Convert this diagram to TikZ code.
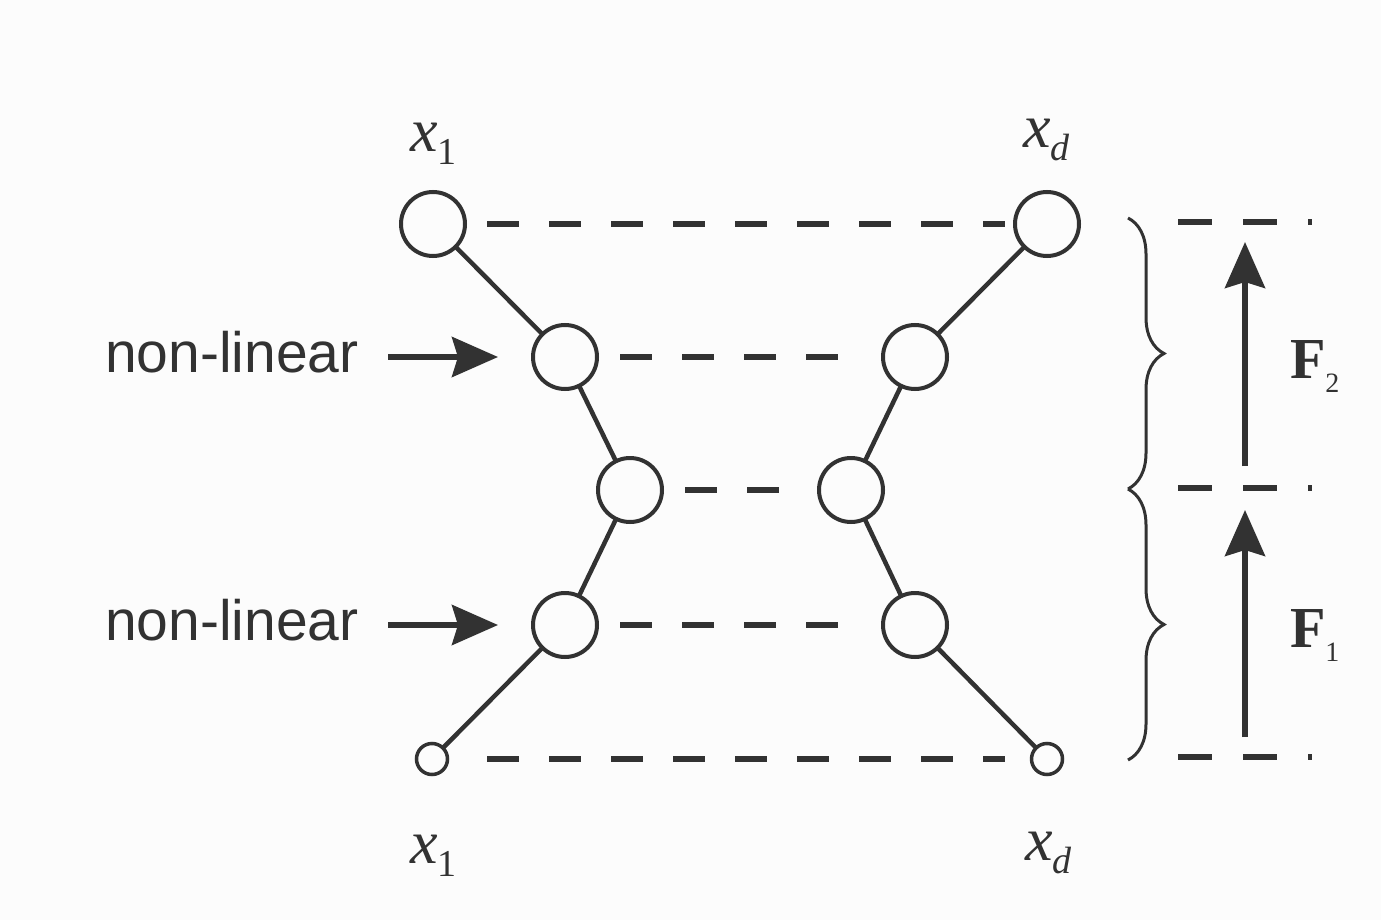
\documentclass[tikz,border=0pt]{standalone}
\usepackage{fontspec}
\setmainfont{Liberation Serif}
\newfontfamily\sansf{Liberation Sans}
\usetikzlibrary{arrows.meta,calc,decorations.pathreplacing}
\definecolor{ink}{RGB}{50,50,50}
\definecolor{bg}{RGB}{252,252,252}
\tikzset{
  big/.style={circle,draw=ink,line width=4pt,minimum size=64pt,inner sep=0pt,outer sep=0pt},
  small/.style={circle,draw=ink,line width=3.5pt,minimum size=31pt,inner sep=0pt,outer sep=0pt},
  link/.style={draw=ink,line width=4.5pt},
  dashl/.style={draw=ink,line width=5.5pt,dash pattern=on 32pt off 30pt},
  rdash/.style={draw=ink,line width=5.5pt,dash pattern=on 34pt off 31pt},
  arr/.style={draw=ink,line width=5.5pt,-{Stealth[length=46pt,width=40pt,inset=6pt]}},
  bracestyle/.style={draw=ink,line width=3pt,decorate,decoration={brace,amplitude=36pt}},
  lab/.style={inner sep=0pt,outer sep=0pt,anchor=base west,text=ink},
}
\newcommand{\xlab}[1]{\fontsize{62}{70}\selectfont\itshape x\raisebox{-13pt}{\fontsize{38}{42}\selectfont #1}}
\newcommand{\flab}[1]{\fontsize{58}{64}\selectfont\bfseries F\raisebox{-14pt}{\fontsize{28}{30}\selectfont\mdseries #1}}
\begin{document}
\begin{tikzpicture}[x=1pt,y=-1pt]
\fill[bg] (0,0) rectangle (1381,920);
\useasboundingbox (0,0) rectangle (1381,920);
% nodes
\node[big] (L1) at (433,224) {};
\node[big] (L2) at (565,357) {};
\node[big] (L3) at (630,490) {};
\node[big] (L4) at (565,625) {};
\node[small] (L5) at (432,759) {};
\node[big] (R1) at (1047,224) {};
\node[big] (R2) at (915,357) {};
\node[big] (R3) at (851,490) {};
\node[big] (R4) at (915,625) {};
\node[small] (R5) at (1047,759) {};
% solid links
\draw[link] (L1) -- (L2);
\draw[link] (L2) -- (L3);
\draw[link] (L3) -- (L4);
\draw[link] (L4) -- (L5);
\draw[link] (R1) -- (R2);
\draw[link] (R2) -- (R3);
\draw[link] (R3) -- (R4);
\draw[link] (R4) -- (R5);
% dashed rows
\draw[dashl] ($(L1.east)+(22,0)$) -- ($(R1.west)+(-10,0)$);
\draw[dashl] ($(L2.east)+(23,0)$) -- ($(R2.west)+(-45,0)$);
\draw[dashl] ($(L3.east)+(23,0)$) -- ($(R3.west)+(-39,0)$);
\draw[dashl] ($(L4.east)+(23,0)$) -- ($(R4.west)+(-45,0)$);
\draw[dashl] ($(L5.east)+(39.5,0)$) -- ($(R5.west)+(-26.5,0)$);
% right side
\coordinate (t1) at (1178,222); \coordinate (t1e) at (1312,222);
\coordinate (t2) at (1178,488); \coordinate (t2e) at (1312,488);
\coordinate (t3) at (1178,757); \coordinate (t3e) at (1312,757);
\draw[rdash] (t1) -- (t1e);
\draw[rdash] (t2) -- (t2e);
\draw[rdash] (t3) -- (t3e);
\coordinate (B1) at (1128,218);
\coordinate (B2) at (1128,489);
\coordinate (B3) at (1128,760);
\draw[bracestyle] (B1) -- (B2);
\draw[bracestyle] (B2) -- (B3);
\coordinate (A1) at (1245,242);
\coordinate (A2) at (1245,466);
\coordinate (A3) at (1245,510);
\coordinate (A4) at (1245,737);
\draw[arr] (A2) -- (A1);
\draw[arr] (A4) -- (A3);
% labels
\node[lab] (tx1) at (410,152) {\xlab{\upshape 1}};
\node[lab] (txd) at (1023,148) {\xlab{\itshape d}};
\node[lab] (bx1) at (410,863) {\xlab{\upshape 1}};
\node[lab] (bxd) at (1025,860) {\xlab{\itshape d}};
\node[lab] (f2) at (1290,378) {\flab{2}};
\node[lab] (f1) at (1290,647) {\flab{1}};
\node[lab,font=\sansf\fontsize{57}{60}\selectfont] (nl1) at (105,372) {non-linear};
\node[lab,font=\sansf\fontsize{57}{60}\selectfont] (nl2) at (105,640) {non-linear};
\draw[arr] ($(nl1.east |- L2)+(30,0)$) -- ($(L2.west)+(-35,0)$);
\draw[arr] ($(nl2.east |- L4)+(30,0)$) -- ($(L4.west)+(-35,0)$);
\end{tikzpicture}
\end{document}
